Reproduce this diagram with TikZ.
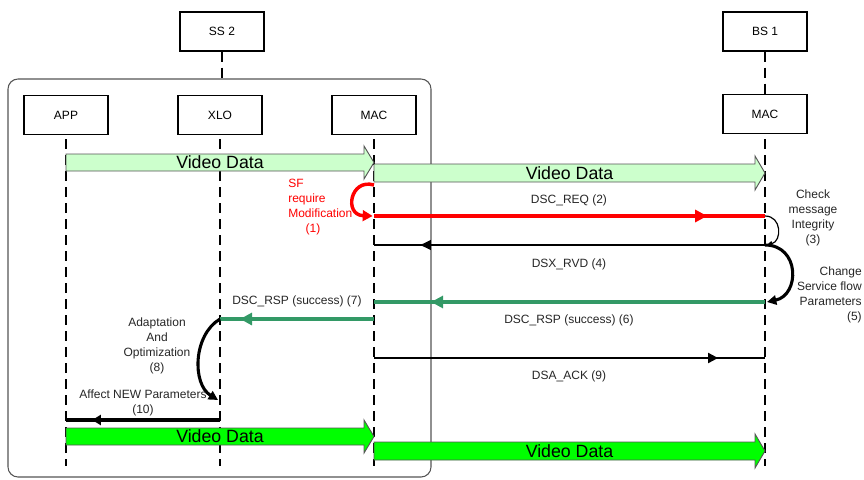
\documentclass[tikz,border=0pt]{standalone}
\usepackage{fontspec}
\setmainfont{Liberation Sans}
\usetikzlibrary{arrows.meta,positioning,calc,decorations.markings}
\definecolor{videolight}{RGB}{204,255,204}
\definecolor{videobright}{RGB}{0,255,0}
\definecolor{rspgreen}{RGB}{51,153,102}
\definecolor{reqred}{RGB}{255,0,0}
\definecolor{framegray}{RGB}{85,85,85}

\tikzset{
  entity/.style={draw, line width=1.1pt, minimum width=63pt, minimum height=29pt, inner sep=0pt, font=\fontsize{9}{11}\selectfont},
  lifeline/.style={line width=1.2pt, dash pattern=on 7.5pt off 4.5pt},
  groupframe/.style={draw=framegray, line width=0.8pt, rounded corners=7.5pt},
  videoframe/.style={draw=framegray, line width=0.7pt},
  videotext/.style={font=\fontsize{13.3}{15}\selectfont, inner sep=0pt},
  msgtext/.style={font=\fontsize{9}{11.25}\selectfont, text=black!85, inner sep=0pt},
  tipat/.style 2 args={postaction={decorate}, decoration={markings, mark=at position #1 with {\arrow{#2}}}},
}

% fat "Video Data" arrow: from x, to x, body top, body bottom, fill, name
\newcommand{\videodata}[6]{%
  \draw[videoframe, fill=#5] (#1,#3) -- (#2-10,#3) -- (#2-10,#3-8) -- (#2,{(#3+#4)/2})
    -- (#2-10,#4+8) -- (#2-10,#4) -- (#1,#4) -- cycle;
  \node[videotext] (#6) at ({(#1+#2)/2},{(#3+#4)/2}) {Video Data};}

\begin{document}
\begin{tikzpicture}[x=0.75pt, y=-0.75pt]
\useasboundingbox (0,0) rectangle (864,479);
\def\xapp{66}
\def\xxlo{220}
\def\xmac{374}
\def\xbs{765}

% SS 2 frame
\draw[groupframe] (8,79) rectangle (431,477);

% stations and layers
\node[entity] (ss2) at (222,31.5) {SS 2};
\node[entity] (bs1) at (\xbs,31.5) {BS 1};
\node[entity] (app) at (\xapp,115) {APP};
\node[entity] (xlo) at (\xxlo,115) {XLO};
\node[entity] (mac) at (\xmac,115) {MAC};
\node[entity] (bsmac) at (\xbs,114) {MAC};

% lifelines
\coordinate (ss2-frame) at (222,79);
\draw[lifeline] (ss2) -- (ss2-frame);
\draw[lifeline] (bs1) -- (bsmac);
\foreach \n/\lx in {app/\xapp, xlo/\xxlo, mac/\xmac, bsmac/\xbs} {
  \coordinate (\n-top) at (\lx,139);
  \coordinate (\n-end) at (\lx,466);
  \draw[lifeline] (\n-top) -- (\n-end);
}

% video data before
\videodata{\xapp}{\xmac}{154}{171}{videolight}{vd1}
\videodata{\xmac}{\xbs}{164}{182}{videolight}{vd2}

% message end points
\coordinate (mac-sf) at (\xmac,185);
\coordinate (mac-req) at (\xmac,216);
\coordinate (bs-req) at (\xbs,216);
\coordinate (bs-rvd) at (\xbs,245);
\coordinate (mac-rvd) at (\xmac,245);
\coordinate (bs-rsp) at (\xbs,302);
\coordinate (mac-rsp) at (\xmac,302);
\coordinate (mac-fwd) at (\xmac,319);
\coordinate (xlo-fwd) at (\xxlo,319);
\coordinate (xlo-opt) at (\xxlo,400);
\coordinate (mac-ack) at (\xmac,358);
\coordinate (bs-ack) at (\xbs,358);
\coordinate (xlo-aff) at (\xxlo,420);
\coordinate (app-aff) at (\xapp,420);

% (1) SF modification
\draw[reqred, line width=2.6pt, -{Triangle[length=7.5pt,width=8pt]}] (mac-sf) .. controls +(-24,-7) and +(-29,-1) .. ([xshift=-1pt]mac-req);
\node[msgtext, text=reqred, align=left, anchor=west] (lbl-sf) at (288,207.5) {SF\\require\\Modification\\\hspace*{13pt}(1)};

% (2) DSC_REQ
\draw[reqred, line width=2.8pt, tipat={0.852}{Triangle[length=9pt,width=9pt]}] (mac-req) -- (bs-req);
\node[msgtext] (lbl-req) at (569,200) {DSC\_REQ (2)};

% (3) check
\draw[line width=0.9pt, -{Triangle[length=4pt,width=4pt]}] (bs-req) .. controls +(17,0) and +(15,-4) .. ([xshift=1.5pt]bs-rvd);
\node[msgtext, align=center] (lbl-chk) at (813,217.5) {Check\\message\\Integrity\\(3)};

% (4) DSX_RVD
\draw[line width=2pt, tipat={0.882}{Triangle[length=8pt,width=7pt]}] (bs-rvd) -- (mac-rvd);
\node[msgtext] (lbl-rvd) at (569,264) {DSX\_RVD (4)};

% (5) change parameters
\draw[line width=2.3pt, -{Triangle[length=7pt,width=7pt]}] (bs-rvd) .. controls +(35,0) and +(33,-7) .. ([xshift=1.5pt]bs-rsp);
\node[msgtext, align=right, anchor=east] (lbl-chg) at (862,294.5) {Change\\Service flow\\Parameters\\(5)};

% (6) DSC_RSP to SS
\draw[rspgreen, line width=2.8pt, tipat={0.854}{Triangle[length=9pt,width=9pt]}] (bs-rsp) -- (mac-rsp);
\node[msgtext] (lbl-rsp6) at (569,320) {DSC\_RSP (success) (6)};

% (7) DSC_RSP to XLO
\draw[rspgreen, line width=2.8pt, tipat={0.87}{Triangle[length=9pt,width=9pt]}] (mac-fwd) -- (xlo-fwd);
\node[msgtext] (lbl-rsp7) at (297,301) {DSC\_RSP (success) (7)};

% (8) adaptation
\draw[line width=2.3pt, -{Triangle[length=7pt,width=7pt]}] (xlo-fwd) .. controls +(-27,16) and +(-26,-16) .. ([xshift=-1.5pt]xlo-opt);
\node[msgtext, align=center] (lbl-opt) at (157,345.5) {Adaptation\\And\\Optimization\\(8)};

% (9) DSA_ACK
\draw[line width=1.5pt, tipat={0.88}{Triangle[length=7.5pt,width=7.5pt]}] (mac-ack) -- (bs-ack);
\node[msgtext] (lbl-ack) at (569,376) {DSA\_ACK (9)};

% (10) affect parameters
\draw[line width=2.7pt, tipat={0.83}{Triangle[length=6.5pt,width=7.5pt]}] (xlo-aff) -- (app-aff);
\node[msgtext, align=center] (lbl-aff) at (143,402.5) {Affect NEW Parameters\\(10)};

% video data after
\videodata{\xapp}{\xmac}{428}{445}{videobright}{vd3}
\videodata{\xmac}{\xbs}{442}{460}{videobright}{vd4}

\end{tikzpicture}
\end{document}
